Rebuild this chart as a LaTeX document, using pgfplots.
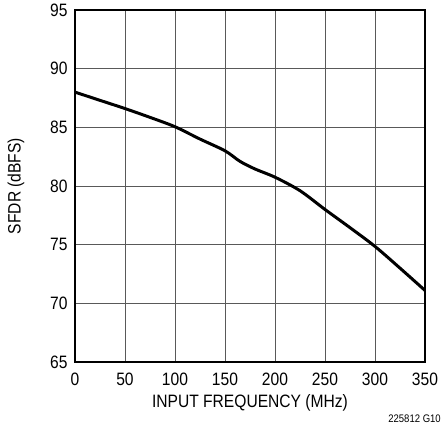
\documentclass[border=0pt]{standalone}
\usepackage{fontspec}
\setmainfont{Liberation Sans}[FakeStretch=0.87]
\usepackage{pgfplots}
\pgfplotsset{compat=1.18}
\usetikzlibrary{calc}
\begin{document}
\begin{tikzpicture}
\begin{axis}[
  name=ax,
  scale only axis,
  width=350bp, height=352bp,
  xmin=0, xmax=350,
  ymin=65, ymax=95,
  xtick={0,50,...,350},
  ytick={65,70,...,95},
  grid=major,
  grid style={line width=1pt, black!65},
  axis line style={line width=1.2pt, black},
  major tick length=0pt,
  tick label style={font=\fontsize{18}{18}\selectfont},
  /pgf/number format/assume math mode=true,
  xticklabel style={yshift=-7bp},
  yticklabel style={xshift=-4bp},
  xlabel={INPUT FREQUENCY (MHz)},
  ylabel={SFDR (dBFS)},
  label style={font=\fontsize{18}{18}\selectfont},
  xlabel style={at={([yshift=-41bp]axis description cs:0.5,0)}, anchor=center},
  ylabel style={at={([xshift=-59bp]axis description cs:0,0.5)}, anchor=center},
]
% SFDR vs input frequency
\addplot[line width=3pt, black, smooth] coordinates {
  (0,88.0)
  (25,87.3)
  (50,86.6)
  (75,85.85)
  (100,85.05)
  (125,84.0)
  (150,83.0)
  (165,82.1)
  (180,81.45)
  (200,80.75)
  (225,79.6)
  (250,78.0)
  (275,76.45)
  (300,74.85)
  (325,73.0)
  (350,71.1)
};
\end{axis}
\node[anchor=south east, inner sep=0pt, font=\fontsize{11}{11}\selectfont] at ($(ax.south east)+(16bp,-61bp)$) {225812 G10};
\pgfresetboundingbox
\path[use as bounding box] ($(ax.south west)+(-75bp,-63bp)$) rectangle ($(ax.north east)+(16bp,10bp)$);
\end{tikzpicture}
\end{document}
